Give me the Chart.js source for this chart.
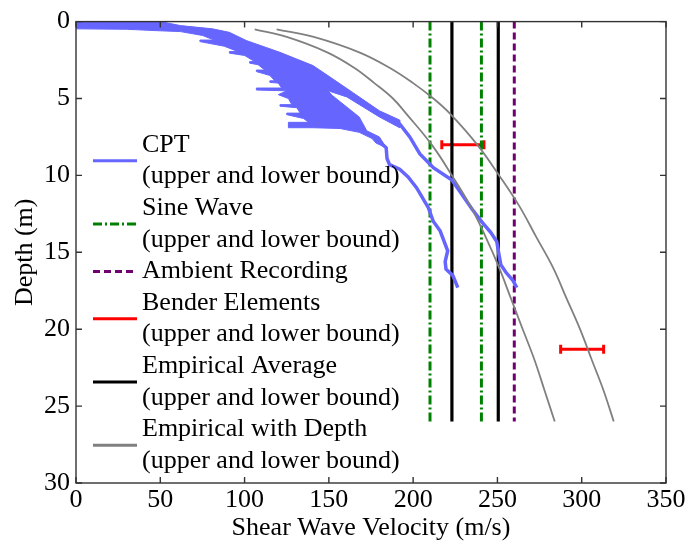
<!DOCTYPE html>
<html>
<head>
<meta charset="utf-8">
<script src="https://cdn.jsdelivr.net/npm/chart.js@4.4.0/dist/chart.umd.min.js"></script>
<style>
  html, body { margin: 0; padding: 0; background: #fff; }
  #cadre { width: 688px; height: 546px; }
</style>
</head>
<body>
<div id="cadre"><canvas id="graphique-vs" width="688" height="546"></canvas></div>
<script>
// Profils CPT : zone dense en surface (contour), puis borne haute et borne basse
// contour : bord superieur, bande haute, fente, bas du bloc, marches a gauche
const cptBandeV = [0, 50, 62, 81, 91, 101, 121, 140.6, 152, 164, 180, 192,
  192, 180, 160.7, 149.5,
  152, 168, 172.5, 180, 184, 178, 175.6, 168, 156.6, 140.6,
  126, 126, 138, 135, 125, 125, 133, 131, 121, 121, 128, 126, 120, 125,
  107, 107, 122, 120, 115, 115, 118, 115, 107, 107, 112, 108, 103, 103, 106,
  100, 91, 91, 96, 88, 73.5, 73.5, 82, 75, 62, 50, 30, 0];
const cptBandeD = [0, 0, 0.26, 0.47, 0.7, 1.23, 2.0, 2.86, 3.7, 4.6, 5.8, 6.4,
  6.9, 6.2, 4.9, 4.5,
  4.8, 6.2, 7.1, 7.5, 8.2, 7.9, 7.6, 7.2, 6.95, 6.9,
  6.9, 6.55, 6.55, 6.3, 6.05, 5.95, 5.95, 5.6, 5.5, 5.4, 5.4, 5.0, 4.75, 4.5,
  4.45, 4.32, 4.32, 4.0, 3.95, 3.85, 3.85, 3.5, 3.25, 3.15, 3.15, 2.8, 2.7, 2.6, 2.6,
  2.2, 2.05, 1.95, 1.95, 1.6, 1.3, 1.2, 1.2, 0.9, 0.65, 0.6, 0.5, 0.47];

const cptHautV = [180, 192, 198, 204, 212, 223, 230, 235, 240.6, 246, 249.6, 251, 252, 255, 259, 261.5];
const cptHautD = [6.0, 6.65, 7.5, 8.6, 9.5, 10.3, 11.4, 12.2, 13.0, 13.7, 14.3, 15.2, 15.8, 16.3, 16.8, 17.3];

const cptBasV = [178, 184, 184.5, 186, 192, 197, 202, 209, 212, 216, 220.5, 219, 219.5, 223.5, 226.5];
const cptBasD = [7.6, 8.2, 8.9, 9.3, 9.6, 10.1, 10.8, 12.1, 13.0, 13.6, 14.9, 15.6, 16.1, 16.5, 17.3];

// Valeurs constantes (lignes verticales de 0 a 26 m)
const profondeurVerticale = [0, 26];
const sinusV = [210, 240.5];
const ambiantV = [260];
const empiriqueMoyV = [223, 250.5];

// Bender elements : barres horizontales
const benderMinV = [217, 287.5];
const benderMaxV = [242, 313];
const benderD = [8, 21.3];

// Empirique avec profondeur
const empiriqueD = [0.5, 1, 2, 3, 4, 5, 6, 8, 10, 12, 14, 16, 18, 20, 22, 24, 26];
const empiriqueBasV = [106, 125, 149, 165, 177, 188, 196, 211, 223, 234, 243, 251, 258, 265, 272, 278, 284];
const empiriqueHautV = [119, 141, 168, 186, 200, 212, 222, 238, 251, 263, 273, 283, 291, 299, 306, 313, 319];

const xTicks = [0, 50, 100, 150, 200, 250, 300, 350];
const yTicks = [0, 5, 10, 15, 20, 25, 30];

const BLEU = "rgb(102,102,255)";
const VERT = "#008000";
const VIOLET = "#700070";
const ROUGE = "#ff0000";
const GRIS = "rgb(128,128,128)";
const police = { family: "'Liberation Serif', 'Times New Roman', serif", size: 26 };

function points(vs, ds) {
  return vs.map((v, i) => ({ x: v, y: ds[i] }));
}
function verticale(v) {
  return profondeurVerticale.map(d => ({ x: v, y: d }));
}

const datasets = [
  // Empirique avec profondeur
  { data: points(empiriqueBasV, empiriqueD), borderColor: GRIS, borderWidth: 1.8, tension: 0.4,
    legende: ["Empirical with Depth", "(upper and lower bound)"], ordreLegende: 6, legendeLargeur: 3 },
  { data: points(empiriqueHautV, empiriqueD), borderColor: GRIS, borderWidth: 1.8, tension: 0.4 },
  // CPT
  { data: points(cptBandeV, cptBandeD), borderColor: BLEU, backgroundColor: BLEU, borderWidth: 1, fill: "shape" },
  { data: points(cptHautV, cptHautD), borderColor: BLEU, borderWidth: 3.5,
    legende: ["CPT", "(upper and lower bound)"], ordreLegende: 1, legendeLargeur: 3 },
  { data: points(cptBasV, cptBasD), borderColor: BLEU, borderWidth: 3.5 },
  // Sine wave
  { data: verticale(sinusV[0]), borderColor: VERT, borderWidth: 3, borderDash: [9, 3, 2, 3],
    legende: ["Sine Wave", "(upper and lower bound)"], ordreLegende: 2 },
  { data: verticale(sinusV[1]), borderColor: VERT, borderWidth: 3, borderDash: [9, 3, 2, 3] },
  // Ambient
  { data: verticale(ambiantV[0]), borderColor: VIOLET, borderWidth: 3, borderDash: [7, 4],
    legende: ["Ambient Recording"], ordreLegende: 3 },
  // Empirique moyenne
  { data: verticale(empiriqueMoyV[0]), borderColor: "#000", borderWidth: 3.2,
    legende: ["Empirical Average", "(upper and lower bound)"], ordreLegende: 5 },
  { data: verticale(empiriqueMoyV[1]), borderColor: "#000", borderWidth: 3.2 },
];
// Bender elements avec petites barres d'extremite
benderD.forEach((d, i) => {
  datasets.push({
    data: [{ x: benderMinV[i], y: d }, { x: benderMaxV[i], y: d }],
    borderColor: ROUGE, borderWidth: 3,
    pointStyle: "line", pointRotation: 90, pointRadius: 4.5, pointBorderWidth: 3, pointBorderColor: ROUGE,
    legende: i === 0 ? ["Bender Elements", "(upper and lower bound)"] : undefined, ordreLegende: 4
  });
});
datasets.forEach(ds => {
  ds.showLine = true;
  if (ds.pointRadius === undefined) ds.pointRadius = 0;
  if (!ds.fill) ds.fill = false;
});

// Cadre + graduations vers l'interieur (style MATLAB)
const cadreMatlab = {
  id: "cadreMatlab",
  afterDatasetsDraw(chart) {
    const { ctx, chartArea: a, scales } = chart;
    ctx.save();
    ctx.strokeStyle = "#333";
    ctx.lineWidth = 1.4;
    ctx.setLineDash([]);
    ctx.strokeRect(a.left, a.top, a.right - a.left, a.bottom - a.top);
    ctx.beginPath();
    xTicks.forEach(t => {
      const x = scales.x.getPixelForValue(t);
      ctx.moveTo(x, a.bottom); ctx.lineTo(x, a.bottom - 6);
      ctx.moveTo(x, a.top); ctx.lineTo(x, a.top + 6);
    });
    yTicks.forEach(t => {
      const y = scales.y.getPixelForValue(t);
      ctx.moveTo(a.left, y); ctx.lineTo(a.left + 6, y);
      ctx.moveTo(a.right, y); ctx.lineTo(a.right - 6, y);
    });
    ctx.stroke();
    ctx.restore();
  }
};

// Legende sur deux lignes, sans boite
const legendeMatlab = {
  id: "legendeMatlab",
  afterDraw(chart) {
    const ctx = chart.ctx;
    const entrees = chart.data.datasets.filter(ds => ds.legende).sort((a, b) => a.ordreLegende - b.ordreLegende);
    const y0 = 145, pas = 31.6;
    let ligne = 0;
    ctx.save();
    ctx.font = police.size + "px " + police.family;
    ctx.textBaseline = "middle";
    ctx.fillStyle = "#000";
    entrees.forEach(ds => {
      const n = ds.legende.length;
      const yMilieu = y0 + (ligne + (n - 1) / 2) * pas;
      ctx.beginPath();
      ctx.strokeStyle = ds.borderColor;
      ctx.lineWidth = ds.legendeLargeur || ds.borderWidth;
      ctx.setLineDash(ds.borderDash || []);
      ctx.moveTo(93, yMilieu);
      ctx.lineTo(137, yMilieu);
      ctx.stroke();
      ds.legende.forEach((texte, k) => ctx.fillText(texte, 142, y0 + (ligne + k) * pas));
      ligne += n;
    });
    ctx.restore();
  }
};

new Chart(document.querySelector("#graphique-vs"), {
  type: "scatter",
  data: { datasets: datasets },
  options: {
    responsive: false,
    animation: false,
    layout: { padding: { top: 21, right: 22, left: 0, bottom: 0 } },
    plugins: { legend: { display: false }, tooltip: { enabled: false } },
    scales: {
      x: {
        type: "linear", position: "bottom", min: 0, max: 350,
        afterBuildTicks: s => { s.ticks = xTicks.map(v => ({ value: v })); },
        ticks: { font: police, color: "#000", padding: 2, maxRotation: 0, autoSkip: false },
        grid: { display: false, drawTicks: false },
        border: { display: false },
        title: { display: true, text: "Shear Wave Velocity (m/s)", font: police, color: "#000", padding: { top: 0, bottom: 2 } },
        afterFit: s => { s.height = 63; }
      },
      y: {
        type: "linear", position: "left", reverse: true, min: 0, max: 30,
        afterBuildTicks: s => { s.ticks = yTicks.map(v => ({ value: v })); },
        ticks: { font: police, color: "#000", padding: 6, autoSkip: false },
        grid: { display: false, drawTicks: false },
        border: { display: false },
        title: { display: true, text: "Depth (m)", font: police, color: "#000", padding: { top: 10, bottom: 0 } },
        afterFit: s => { s.width = 76; }
      }
    }
  },
  plugins: [cadreMatlab, legendeMatlab]
});
</script>
</body>
</html>
